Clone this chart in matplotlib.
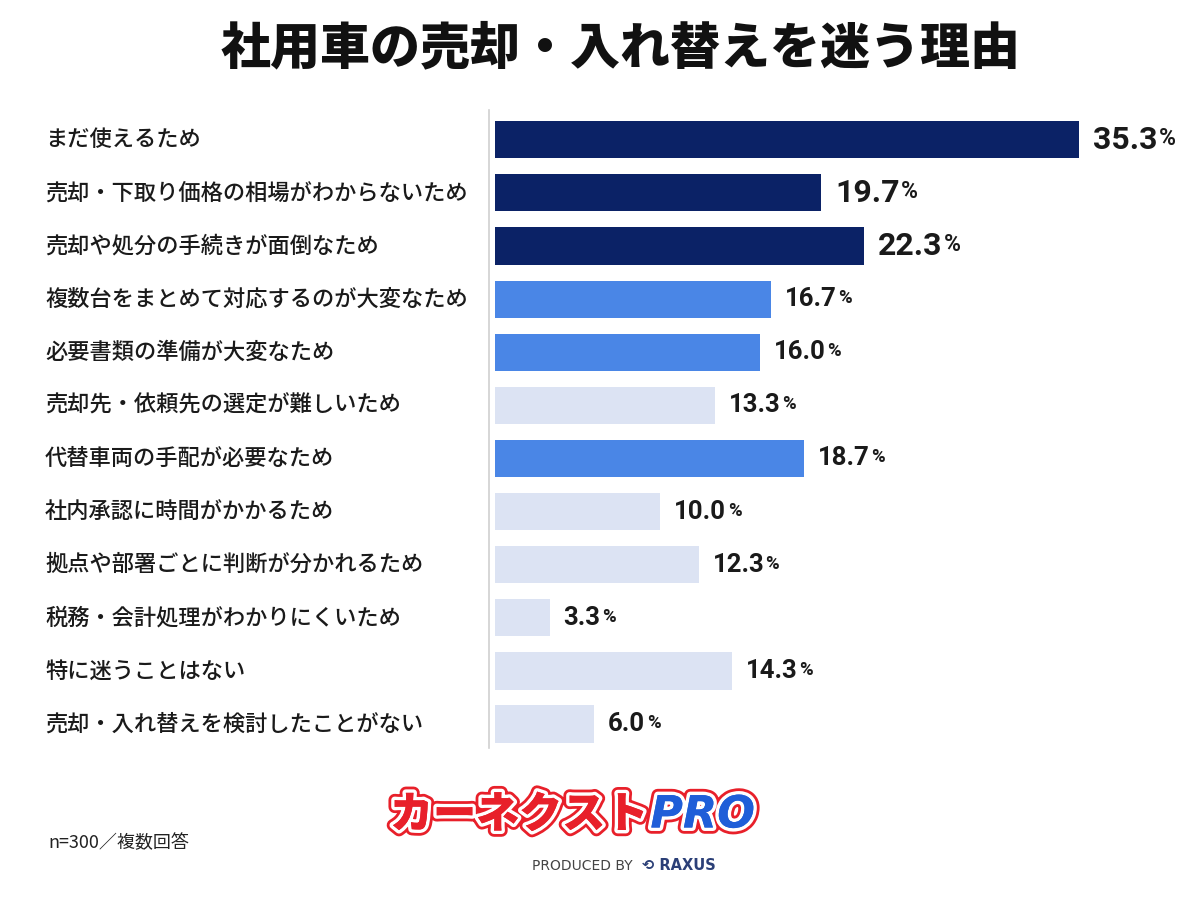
import matplotlib
matplotlib.use("Agg")
import matplotlib.pyplot as plt
import matplotlib.transforms as mtransforms
import matplotlib.patheffects as pe

plt.rcParams['font.family'] = ['Noto Sans CJK JP', 'DejaVu Sans']

# data
labels = [
    "まだ使えるため",
    "売却・下取り価格の相場がわからないため",
    "売却や処分の手続きが面倒なため",
    "複数台をまとめて対応するのが大変なため",
    "必要書類の準備が大変なため",
    "売却先・依頼先の選定が難しいため",
    "代替車両の手配が必要なため",
    "社内承認に時間がかかるため",
    "拠点や部署ごとに判断が分かれるため",
    "税務・会計処理がわかりにくいため",
    "特に迷うことはない",
    "売却・入れ替えを検討したことがない",
]
values = [35.3, 19.7, 22.3, 16.7, 16.0, 13.3, 18.7, 10.0, 12.3, 3.3, 14.3, 6.0]
groups = ["top", "top", "top", "mid", "mid", "low", "mid", "low", "low", "low", "low", "low"]

palette = {"top": "#0b2266", "mid": "#4a86e6", "low": "#dce3f3"}
num_font = ['Roboto', 'DejaVu Sans']

fig = plt.figure(figsize=(12, 9), dpi=100)
ax = fig.add_axes([0.4125, 0.1689, 0.5875, 0.7089])

y = list(range(len(labels)))
ax.barh(y, values, height=0.7, color=[palette[g] for g in groups])
ax.set_xlim(0, 42.6)
ax.set_ylim(11.45, -0.56)

for s in ["top", "right", "bottom"]:
    ax.spines[s].set_visible(False)
ax.spines["left"].set_position(("outward", 4))
ax.spines["left"].set_color("#d0d0d0")
ax.spines["left"].set_linewidth(1.2)
ax.set_xticks([])
ax.set_yticks([])

trans = mtransforms.blended_transform_factory(fig.transFigure, ax.transData)
for yi, lab in zip(y, labels):
    ax.text(45 / 1200, yi, lab, transform=trans, ha="left", va="center",
            fontsize=16, fontweight="medium", color="#1a1a1a")

for yi, v, g in zip(y, values, groups):
    size = 23 if g == "top" else 18.5
    t = ax.annotate(f"{v:.1f}", xy=(v, yi), xytext=(10, 0), textcoords="offset points",
                    ha="left", va="center", fontsize=size, fontweight="bold",
                    family=num_font, color="#1a1a1a")
    ax.annotate("%", xy=(1.0, 0.17), xycoords=t, xytext=(1, 0), textcoords="offset points",
                ha="left", va="bottom", fontsize=size * 0.72, fontweight="bold",
                family=num_font, color="#1a1a1a")

fig.text(0.5175, 1 - 48 / 900, "社用車の売却・入れ替えを迷う理由", ha="center", va="center",
         fontsize=36, fontweight="black", color="#111111")

fig.text(48 / 1200, 1 - 843 / 900, "n=300／複数回答", ha="left", va="center",
         fontsize=13, color="#222222")

# logo
logo = fig.text(0.54, 1 - 815 / 900, "カーネクスト", ha="right", va="center",
                fontsize=31, fontweight="black", color="#e8202a")
logo.set_path_effects([pe.withStroke(linewidth=9, foreground="#e8202a"),
                       pe.withStroke(linewidth=5, foreground="white"),
                       pe.Normal()])
pro = fig.text(0.542, 1 - 815 / 900, "PRO", ha="left", va="center",
               fontsize=32, fontweight="bold", style="italic", color="#1f5ed8",
               family=["DejaVu Sans"])
pro.set_path_effects([pe.withStroke(linewidth=9, foreground="#e8202a"),
                      pe.withStroke(linewidth=5, foreground="white"),
                      pe.Normal()])
fig.text(0.527, 1 - 866 / 900, "PRODUCED BY", ha="right", va="center",
         fontsize=10, color="#444444", family=["DejaVu Sans"])
fig.text(0.535, 1 - 866 / 900, "⟲ RAXUS", ha="left", va="center",
         fontsize=10.5, fontweight="bold", color="#2b3f77", family=["DejaVu Sans"])

fig.savefig("out.png", dpi=100, facecolor="white")
